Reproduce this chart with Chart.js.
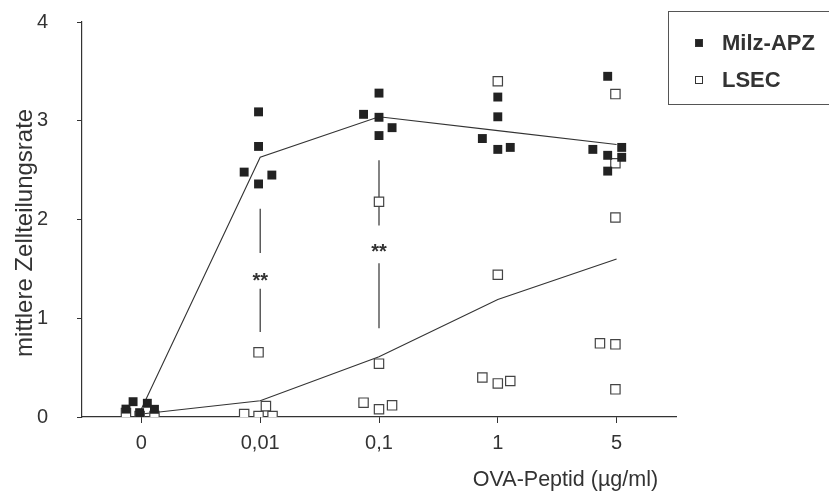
<!DOCTYPE html>
<html>
<head>
<meta charset="utf-8">
<script src="https://cdn.jsdelivr.net/npm/chart.js@4.4.1/dist/chart.umd.min.js"></script>
<style>
  html, body { margin: 0; padding: 0; background: #fff; }
  #wrap { width: 829px; height: 497px; }
</style>
</head>
<body>
<div id="wrap"><canvas id="zellteilung" width="829" height="497"></canvas></div>
<script>
// categories on the x axis (OVA-Peptid concentration)
const categories = ['0', '0,01', '0,1', '1', '5'];

// mean lines
const milzMean = [0.08, 2.63, 3.04, 2.90, 2.76];
const lsecMean = [0.03, 0.165, 0.61, 1.19, 1.60];

// single values: x = category index (+ small spread), y = rate
const milzX = [-0.13, -0.07, -0.015, 0.05, 0.11,
	0.986, 0.986, 0.865, 0.986, 1.098,
	2, 1.87, 2, 2.11, 2,
	3, 3, 2.87, 3, 3.105,
	3.925, 3.80, 3.925, 4.043, 4.043, 3.925];
const milzY = [0.08, 0.155, 0.044, 0.139, 0.078,
	3.09, 2.74, 2.48, 2.36, 2.45,
	3.28, 3.065, 3.035, 2.93, 2.85,
	3.24, 3.04, 2.82, 2.71, 2.73,
	3.45, 2.71, 2.65, 2.73, 2.63, 2.49];

const lsecX = [-0.13, -0.015, 0.11,
	0.986, 0.865, 0.986, 1.048, 1.104,
	2, 2, 1.87, 2, 2.11,
	3, 3, 2.87, 3, 3.105,
	3.99, 3.99, 3.99, 3.86, 3.99, 3.99];
const lsecY = [0.04, 0.01, 0.01,
	0.655, 0.03, 0.01, 0.11, 0.01,
	2.18, 0.54, 0.145, 0.078, 0.118,
	3.40, 1.44, 0.40, 0.34, 0.365,
	3.27, 2.57, 2.02, 0.746, 0.736, 0.28];

// significance marks (**) with their bars
const sigIndex = [1, 2];
const sigUpper = [[2.11, 1.66], [2.60, 1.94]];
const sigLower = [[1.30, 0.86], [1.556, 0.898]];
const sigStar = [1.44, 1.73];

const yTicks = [0, 1, 2, 3, 4];

const ink = '#333333';
const font = 'Arial, "Liberation Sans", sans-serif';

function pts(xs, ys) {
	return xs.map((x, i) => ({ x: x, y: ys[i] }));
}

const sigSets = [];
sigIndex.forEach((ix, i) => {
	[sigUpper[i], sigLower[i]].forEach(seg => {
		sigSets.push({
			type: 'line',
			data: seg.map(v => ({ x: ix, y: v })),
			borderColor: ink,
			borderWidth: 1.2,
			pointRadius: 0,
			order: 5
		});
	});
});

const starsPlugin = {
	id: 'stars',
	afterDatasetsDraw(chart) {
		const ctx = chart.ctx;
		ctx.save();
		ctx.fillStyle = ink;
		ctx.font = 'bold 20px ' + font;
		ctx.textAlign = 'center';
		ctx.textBaseline = 'alphabetic';
		sigIndex.forEach((ix, i) => {
			const px = chart.scales.x.getPixelForValue(ix);
			const py = chart.scales.y.getPixelForValue(sigStar[i]);
			ctx.fillText('**', px, py + 12);
		});
		ctx.restore();
	}
};

// boxed legend in the top right corner
const boxLegend = {
	id: 'boxLegend',
	afterDraw(chart) {
		const ctx = chart.ctx;
		ctx.save();
		ctx.strokeStyle = '#555';
		ctx.lineWidth = 1;
		ctx.strokeRect(668.5, 11.5, 170, 93);
		const items = [
			{ text: 'Milz-APZ', fill: '#222', y: 43 },
			{ text: 'LSEC', fill: '#fff', y: 80 }
		];
		items.forEach(it => {
			ctx.fillStyle = it.fill;
			ctx.fillRect(695.5, it.y - 3.5, 7, 7);
			ctx.strokeStyle = '#333';
			ctx.strokeRect(695.5, it.y - 3.5, 7, 7);
			ctx.fillStyle = ink;
			ctx.font = 'bold 22px ' + font;
			ctx.textBaseline = 'middle';
			ctx.textAlign = 'left';
			ctx.fillText(it.text, 722, it.y + 1);
		});
		ctx.restore();
	}
};

const config = {
	type: 'scatter',
	data: {
		datasets: [
			{
				label: 'Milz-APZ',
				data: pts(milzX, milzY),
				pointStyle: 'rect',
				pointRadius: 6.3,
				backgroundColor: '#222',
				borderColor: '#222',
				borderWidth: 0,
				order: 1
			},
			{
				label: 'LSEC',
				data: pts(lsecX, lsecY),
				pointStyle: 'rect',
				pointRadius: 6.6,
				backgroundColor: '#fff',
				borderColor: '#444',
				borderWidth: 1.2,
				order: 2
			},
			{
				type: 'line',
				data: milzMean.map((v, i) => ({ x: i, y: v })),
				borderColor: ink,
				borderWidth: 1.1,
				pointRadius: 0,
				order: 3
			},
			{
				type: 'line',
				data: lsecMean.map((v, i) => ({ x: i, y: v })),
				borderColor: ink,
				borderWidth: 1.1,
				pointRadius: 0,
				order: 4
			},
			...sigSets
		]
	},
	plugins: [starsPlugin, boxLegend],
	options: {
		responsive: false,
		animation: false,
		layout: {
			padding: { top: 22, right: 153, left: 0, bottom: 0 }
		},
		plugins: {
			legend: { display: false },
			tooltip: { enabled: false }
		},
		scales: {
			x: {
				type: 'linear',
				min: -0.5,
				max: 4.5,
				afterBuildTicks: scale => {
					scale.ticks = categories.map((c, i) => ({ value: i }));
				},
				afterFit: scale => { scale.height = 80; },
				ticks: {
					callback: v => categories[v],
					color: ink,
					font: { family: font, size: 20 },
					padding: 8
				},
				grid: { drawOnChartArea: false, color: ink, tickLength: 6 },
				border: { color: ink, width: 1.2 },
				title: {
					display: true,
					align: 'end',
					text: 'OVA-Peptid (µg/ml)   ',
					color: ink,
					font: { family: font, size: 21.5 },
					padding: { top: 5 }
				}
			},
			y: {
				min: 0,
				max: 4,
				afterBuildTicks: scale => {
					scale.ticks = yTicks.map(v => ({ value: v }));
				},
				afterFit: scale => {
					scale.width = 82;
					scale.paddingTop = 0;
					scale.paddingBottom = 0;
				},
				ticks: {
					color: ink,
					font: { family: font, size: 20 },
					padding: 29
				},
				grid: { drawOnChartArea: false, color: ink, tickLength: 5 },
				border: { color: ink, width: 1.2 },
				title: {
					display: true,
					text: 'mittlere Zellteilungsrate    ',
					color: ink,
					font: { family: font, size: 24 },
					padding: { top: 11 }
				}
			}
		}
	}
};

const chart = new Chart(
	document.getElementById('zellteilung'),
	config
);
</script>
</body>
</html>
